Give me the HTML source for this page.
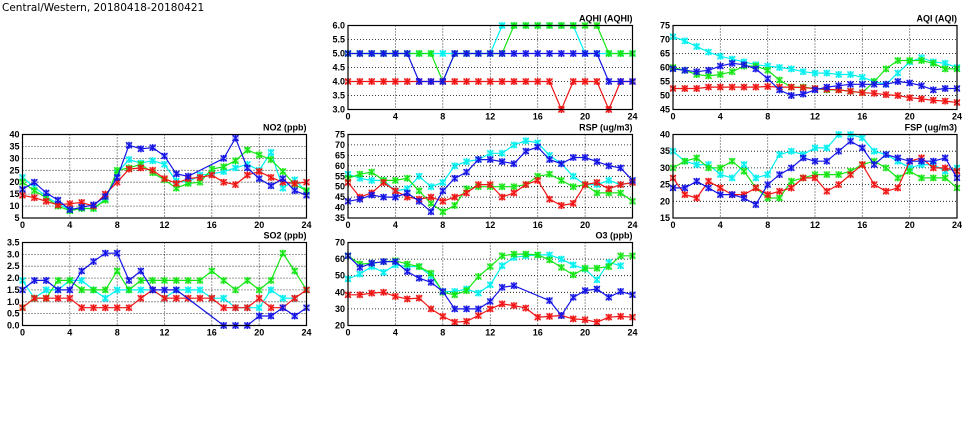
<!DOCTYPE html>
<html><head><meta charset="utf-8"><style>
html,body{margin:0;padding:0;background:#fff;width:975px;height:447px;overflow:hidden}
svg text{font-family:"Liberation Sans",sans-serif;font-weight:bold;font-size:9px;fill:#000}
</style></head><body>
<svg id="s" width="975" height="447" xmlns="http://www.w3.org/2000/svg">
<text x="2" y="11" style="font-size:10.5px;font-family:'DejaVu Sans',sans-serif;font-weight:normal">Central/Western, 20180418-20180421</text>
</svg>
<script>
const N=null;
const C={b:"#1414e6",c:"#00f0f0",g:"#14e614",r:"#f01414"};
const panels=[
{t:"AQHI (AQHI)",x0:348,x1:632.5,y0:25.5,y1:109.5,min:3,max:6,step:0.5,fmt:v=>v.toFixed(1),s:{
c:[5,5,5,5,5,5,5,5,5,5,5,5,5,6,6,6,6,6,6,6,5,5,5,5,5],
g:[5,5,5,5,5,5,5,5,4,5,5,5,5,5,6,6,6,6,6,6,6,6,5,5,5],
r:[4,4,4,4,4,4,4,4,4,4,4,4,4,4,4,4,4,4,3,4,4,4,3,4,4],
b:[5,5,5,5,5,5,4,4,4,5,5,5,5,5,5,5,5,5,5,5,5,5,4,4,4]}},
{t:"AQI (AQI)",x0:673,x1:957,y0:25.5,y1:109.5,min:45,max:75,step:5,fmt:v=>v,s:{
c:[71,69.5,67.5,65.5,64,63,62,61,60.5,60,59.5,58.5,58,58,57.5,57.5,56.5,55,54,58,62,63.5,62,61.5,60],
g:[60,59,57.5,57,57.5,58.5,60.5,60.5,59,55.5,53,53,52.5,52,52,51.5,51,55,59.5,62.5,62.5,62.5,61.5,59.5,59.5],
r:[52.5,52.5,52.5,53,53,53,53,53,53.2,53,53,52.8,52.5,52.2,52,51.5,51,50.8,50.3,50,49.2,48.8,48.3,48,47.5],
b:[59.5,59,58.5,59,60.5,61.5,61,59.5,56,52,50,50.5,52,53,53.5,54,54,54,54,55,54.5,53.5,52,52.5,52.5]}},
{t:"NO2 (ppb)",x0:22.5,x1:306.5,y0:134.5,y1:218,min:5,max:40,step:5,fmt:v=>v,s:{
c:[22,18,14,11,8.5,9,9,13,24,29.5,28,29,27.5,20.5,20,23,23.5,24.5,26,27.5,25,32.5,17.5,21,16],
g:[20,16.5,13.5,10,8,9,9,12.5,25,26,27.5,24,21,17.5,19.5,20,25.5,26.5,29,33.5,31.5,29.5,24.5,19,16.5],
r:[14.5,13.5,12,10.5,11,11.5,10,15,20,25.5,26,25,21.5,19.5,21.5,22,23,20,19,23,24.5,22,20,19.5,20],
b:[17,20,15.5,12.5,8.5,9.5,10.5,14,22,35.5,34,34.5,31,23.5,22.5,N,N,30,38.5,26,21.5,18.5,21.5,16.5,14.5]}},
{t:"RSP (ug/m3)",x0:348,x1:632.5,y0:134.5,y1:218,min:35,max:75,step:5,fmt:v=>v,s:{
c:[56,54,53,53,48,49,55,50,52,60,62,63,66,66,70,72,71,65,61,55,51,51,53,51,52],
g:[54,56,57,53,53,54,48,42,38,41,49,50,50,50,50,51,55,56,53,50,51,47,47,47,43],
r:[52,45,47,52,48,45,44,45,43,45,47,51,51,45,47,51,53,44,41,42,51,52,49,51,52],
b:[43,44,46,45,45,47,43,38,48,54,57,63,63,62,61,67,69,63,61,64,64,62,60,59,53]}},
{t:"FSP (ug/m3)",x0:673,x1:957,y0:134.5,y1:218,min:15,max:40,step:5,fmt:v=>v,s:{
c:[35,32,31,31,28,27,31,27,28,34,35,34,36,36,40,40,39,35,34,32,30,31,31,29,30],
g:[30,32,33,30,30,32,29,24,21,21,26,27,28,28,28,29,31,32,30,27,29,27,27,27,24],
r:[27,22,21,26,24,22,22,24,22,23,24,27,27,23,25,28,31,25,23,24,32,33,30,30,29],
b:[24,24,26,24,22,22,21,19,25,28,30,33,32,32,35,38,36,31,34,33,32,32,32,33,27]}},
{t:"SO2 (ppb)",x0:22.5,x1:306.5,y0:242.5,y1:325.5,min:0,max:3.5,step:0.5,fmt:v=>v.toFixed(1),s:{
c:[1.9,1.15,1.5,1.5,1.9,1.9,1.5,1.15,1.5,1.5,1.5,1.5,1.15,1.5,1.5,1.5,1.15,1.15,0.75,0.75,0.75,1.5,1.15,1.15,1.5],
g:[0.75,1.15,1.15,1.9,1.9,1.5,1.5,1.5,2.3,1.5,1.9,1.9,1.9,1.9,1.9,1.9,2.3,1.9,1.5,1.9,1.5,1.9,3.05,2.3,1.5],
r:[0.75,1.15,1.15,1.15,1.15,0.75,0.75,0.75,0.75,0.75,1.15,1.5,1.15,1.15,1.15,1.15,1.15,0.75,0.75,0.75,1.15,0.75,0.75,1.15,1.5],
b:[1.5,1.9,1.9,1.5,1.5,2.3,2.7,3.05,3.05,1.9,2.3,1.5,1.5,1.5,N,N,N,0,0,0,0.4,0.4,0.75,0.4,0.75]}},
{t:"O3 (ppb)",x0:348,x1:632.5,y0:242.5,y1:325.5,min:20,max:70,step:10,fmt:v=>v,s:{
c:[48,51,55.5,52,56.5,55.5,55.5,50,40.5,40.5,42,39.5,44.5,56,61,62,62.5,62.5,60,56.5,54,47.5,58,56,N],
g:[62,57,57.5,58.5,59,57,55.5,51.5,40,38.5,41,49.5,55.5,62,63,63,62.5,59.5,55,50.5,54.5,54.5,55.5,62,62],
r:[38.5,38.5,39.5,40,37.5,36,36.5,30,25.5,22,22.5,26,30,33,32,30.5,25,25.5,26,24,23.5,22,25,25.5,25],
b:[62,55,57.5,58.5,58.5,52.5,48.5,46,40.5,30,30,30,34.5,43,44,N,N,35,26,37,41,42,37,40.5,38.5]}}
];
let h="";
for(const p of panels){
 const X=i=>p.x0+(p.x1-p.x0)*i/24, Y=v=>p.y1-(p.y1-p.y0)*(v-p.min)/(p.max-p.min);
 for(let v=p.min;v<=p.max+1e-9;v+=p.step){const y=Y(v).toFixed(1);
  h+=`<line x1="${p.x0}" x2="${p.x1}" y1="${y}" y2="${y}" stroke="#000" stroke-width="0.8" stroke-dasharray="1,2"/>`;
  h+=`<text x="${p.x0-3}" y="${(+y+3).toFixed(1)}" text-anchor="end">${p.fmt(Math.round(v*10)/10)}</text>`;}
 for(let i=0;i<=24;i+=4){const x=X(i).toFixed(1);
  h+=`<line x1="${x}" x2="${x}" y1="${p.y0}" y2="${p.y1}" stroke="#000" stroke-width="0.8" stroke-dasharray="1,2"/>`;
  h+=`<text x="${x}" y="${p.y1+10}" text-anchor="middle">${i}</text>`;}
 for(const k of ["c","g","r","b"]){const d=p.s[k];const pts=[];
  d.forEach((v,i)=>{if(v!==null)pts.push([X(i),Y(v)])});
  h+=`<polyline fill="none" stroke="${C[k]}" stroke-width="1.2" points="${pts.map(q=>q[0].toFixed(1)+","+q[1].toFixed(1)).join(" ")}"/>`;
  for(const [x,y] of pts){h+=`<path d="M${x-3} ${y-3}L${x+3} ${y+3}M${x-3} ${y+3}L${x+3} ${y-3}M${x} ${y-3.5}V${y+3.5}" stroke="${C[k]}" stroke-width="1.3"/><rect x="${x-2.5}" y="${y-2.5}" width="5" height="5" fill="none" stroke="${C[k]}" stroke-opacity="0.5"/>`;}
 }
 h+=`<rect x="${p.x0}" y="${p.y0}" width="${p.x1-p.x0}" height="${p.y1-p.y0}" fill="none" stroke="#000" stroke-width="1.2"/>`;
 h+=`<text x="${p.x1}" y="${p.y0-4}" text-anchor="end">${p.t}</text>`;
}
document.getElementById("s").insertAdjacentHTML("beforeend",h);
</script>
</body></html>
